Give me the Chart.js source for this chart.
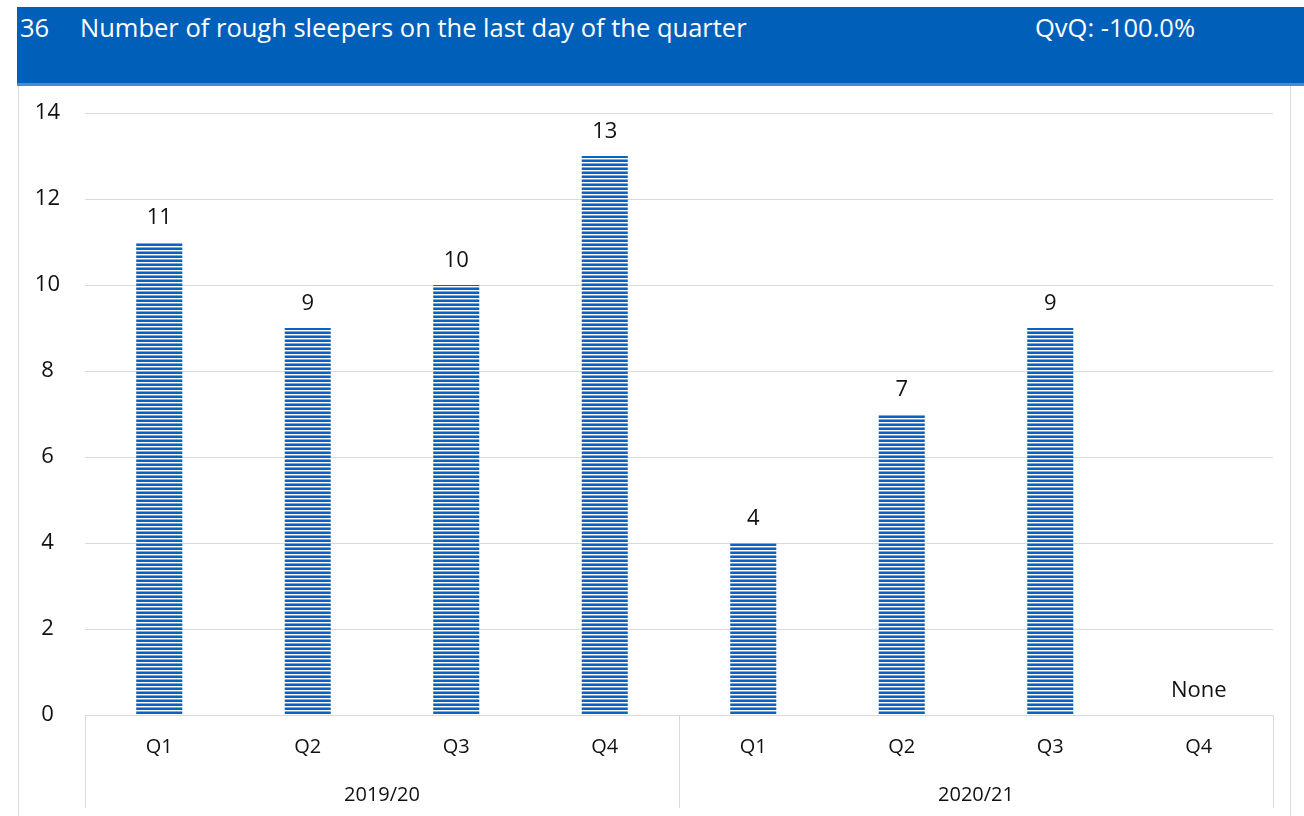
<!DOCTYPE html>
<html>
<head>
<meta charset="utf-8">
<script src="https://cdn.jsdelivr.net/npm/chart.js@4"></script>
<style>
    body { margin: 0; background: #fff; font-family: 'Open Sans', sans-serif; }
    #head {
        position: absolute; left: 17px; top: 7px; width: 1287px; height: 76px;
        background: #0060B9; color: #fff; font-size: 25.5px;
        border-bottom: 3px solid #4a8bd0;
    }
    #head span { position: absolute; top: 3px; }
    #box {
        position: absolute; left: 18px; top: 86px; width: 1271px; height: 730px;
        border-left: 1px solid #d9d9d9; border-right: 1px solid #d9d9d9;
    }
    #c { position: absolute; left: 0; top: -2px; }
</style>
</head>
<body>
<div id="head">
    <span style="left:3px">36</span>
    <span style="left:63px">Number of rough sleepers on the last day of the quarter</span>
    <span style="left:1018px">QvQ: -100.0%</span>
</div>
<div id="box"><canvas id="c" width="1272" height="732"></canvas></div>
<script>
const quarters = ['Q1', 'Q2', 'Q3', 'Q4', 'Q1', 'Q2', 'Q3', 'Q4'];
const years = ['2019/20', '2020/21'];
const quartersPerYear = 4;
const sleepers = [11, 9, 10, 13, 4, 7, 9, null];
const yMax = 14;
const yStep = 2;

// horizontal stripe fill like the Excel pattern
function stripes() {
    const p = document.createElement('canvas');
    p.width = 4; p.height = 4;
    const g = p.getContext('2d');
    g.fillStyle = '#ffffff';
    g.fillRect(0, 0, 4, 4);
    g.fillStyle = '#0563C1';
    g.fillRect(0, 0, 4, 2);
    g.fillStyle = '#7aa9e0';
    g.fillRect(0, 3, 4, 1);
    return g.createPattern(p, 'repeat');
}

const valueLabels = {
    id: 'valueLabels',
    afterDatasetsDraw(chart) {
        const ctx = chart.ctx;
        const meta = chart.getDatasetMeta(0);
        const y0 = chart.scales.y.getPixelForValue(0);
        ctx.save();
        ctx.font = '22px "Open Sans"';
        ctx.fillStyle = '#111';
        ctx.textAlign = 'center';
        ctx.textBaseline = 'bottom';
        sleepers.forEach((v, i) => {
            const bar = meta.data[i];
            const x = chart.scales.x.getPixelForValue(i);
            const y = v === null ? y0 : bar.y;
            ctx.fillText(v === null ? 'None' : String(v), x, y - 13);
        });
        ctx.restore();
    }
};

const yearGroups = {
    id: 'yearGroups',
    afterDraw(chart) {
        const ctx = chart.ctx;
        const xs = chart.scales.x;
        const bottom = chart.chartArea.bottom;
        const w = xs.width / quarters.length;
        ctx.save();
        ctx.strokeStyle = '#d9d9d9';
        ctx.lineWidth = 1;
        for (let g = 0; g <= years.length; g++) {
            const bx = Math.round(xs.left + g * quartersPerYear * w) + 0.5;
            ctx.beginPath();
            ctx.moveTo(bx, bottom);
            ctx.lineTo(bx, bottom + 93);
            ctx.stroke();
        }
        ctx.font = '20px "Open Sans"';
        ctx.fillStyle = '#111';
        ctx.textAlign = 'center';
        ctx.textBaseline = 'middle';
        years.forEach((yr, g) => {
            const mid = xs.left + (g + 0.5) * quartersPerYear * w;
            ctx.fillText(yr, mid, bottom + 80);
        });
        ctx.restore();
    }
};

new Chart(document.getElementById('c'), {
    type: 'bar',
    data: {
        labels: quarters,
        datasets: [{
            data: sleepers,
            backgroundColor: stripes(),
            borderWidth: 0,
            categoryPercentage: 1,
            barPercentage: 0.31
        }]
    },
    options: {
        responsive: false,
        animation: false,
        layout: { padding: { top: 29, right: 18, left: 0, bottom: 0 } },
        plugins: { legend: { display: false }, tooltip: { enabled: false } },
        scales: {
            x: {
                grid: { display: false },
                border: { display: false },
                ticks: { color: '#111', font: { family: 'Open Sans', size: 20 }, padding: 12, maxRotation: 0 },
                afterFit(s) { s.height = 101; }
            },
            y: {
                min: 0,
                max: yMax,
                grid: { color: '#d9d9d9', drawTicks: false },
                border: { display: false },
                ticks: {
                    stepSize: yStep,
                    color: '#111',
                    font: { family: 'Open Sans', size: 22 },
                    crossAlign: 'center',
                    padding: 25
                },
                afterFit(s) { s.width = 66; s.paddingTop = 0; s.paddingBottom = 0; }
            }
        }
    },
    plugins: [valueLabels, yearGroups]
});
</script>
</body>
</html>
